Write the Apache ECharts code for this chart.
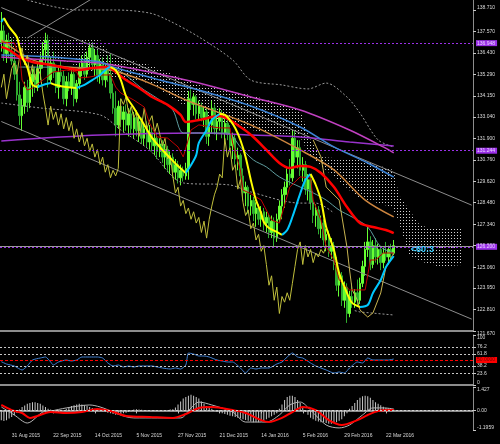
<!DOCTYPE html>
<html><head><meta charset="utf-8">
<script src="https://cdn.jsdelivr.net/npm/echarts@6/dist/echarts.min.js"></script>
<style>html,body{margin:0;padding:0;background:#000}#c{width:500px;height:444px}</style>
</head><body><div id="c"></div><script>
// ---------- data ----------
const SLOTS = 182; // bars + 26 forward slots for the cloud + right margin
const dateIdx = [4,20,36,52,68,84,100,116,132,148];
const dateLabels = ['31 Aug 2015','22 Sep 2015','14 Oct 2015','5 Nov 2015','27 Nov 2015','21 Dec 2015','14 Jan 2016','5 Feb 2016','29 Feb 2016','22 Mar 2016'];
const priceTicks = [138.71,137.57,136.43,135.29,134.15,133.04,131.90,130.76,129.62,128.48,127.34,126.20,125.06,123.95,122.81,121.67];
const rsiTicks = [0,23.6,38.2,61.8,76.2,100];
const macdTicks = [-1.1959,0,1.427];

const opens = [137.0,137.6,136.4,137.1,136.5,136.0,135.3,134.2,133.1,133.6,
134.6,133.8,134.9,135.3,134.6,135.6,136.1,136.6,137.1,135.0,
135.9,135.4,134.6,135.4,135.2,134.0,134.9,134.6,135.3,134.0,
134.8,135.6,135.9,135.3,136.2,136.7,135.8,136.3,135.2,135.8,
135.0,135.6,135.3,134.3,133.5,132.6,133.6,132.9,133.3,132.6,
133.2,132.4,133.0,132.3,132.8,131.9,132.4,131.7,132.2,131.5,
131.9,131.2,131.6,130.9,131.3,130.5,130.9,130.1,130.5,129.8,
130.2,129.9,130.3,134.0,133.7,134.1,133.2,133.6,133.0,133.3,
132.0,132.6,133.5,132.4,132.8,133.1,132.2,132.7,132.1,131.5,
131.9,130.8,131.0,129.9,129.0,129.3,128.3,128.6,127.9,128.2,
127.6,128.0,127.4,127.7,126.9,127.5,126.6,127.6,128.3,128.9,
129.3,130.0,129.8,131.9,130.9,131.4,130.2,130.5,129.2,129.7,
128.5,127.8,128.1,127.1,127.4,126.5,126.8,125.9,126.2,125.2,
124.1,124.6,123.3,124.0,122.6,123.5,123.2,123.7,123.3,124.2,
125.1,126.0,126.4,125.2,126.2,125.6,126.0,125.3,125.8,125.6,
126.0,125.8];
const highs = [138.6,137.9,137.4,137.5,137.2,136.6,135.8,134.9,134.0,134.9,
135.0,135.2,135.6,135.7,135.9,136.4,137.0,137.5,137.4,136.2,
136.5,135.8,135.7,136.0,135.5,135.2,135.4,135.6,135.6,135.0,
135.9,136.3,136.4,136.5,137.0,137.0,136.6,136.6,136.1,136.2,
135.9,136.3,136.4,134.8,134.4,133.9,134.0,133.6,133.7,133.5,
133.5,133.3,133.4,133.1,133.0,132.7,132.8,132.6,132.5,132.3,
132.2,131.9,131.8,131.6,131.5,131.2,131.1,130.8,130.7,130.5,
130.4,130.6,134.4,134.5,134.3,134.2,133.9,133.8,133.6,133.5,
133.0,133.9,133.7,133.1,133.5,133.4,133.0,133.0,132.6,132.2,
132.1,131.4,131.1,130.3,129.6,129.4,128.9,128.8,128.5,128.4,
128.3,128.2,128.0,127.9,127.8,127.7,127.9,128.6,129.2,129.6,
130.3,130.8,132.3,132.3,131.8,131.8,130.9,130.7,130.0,129.9,
129.1,128.4,128.3,127.8,127.6,127.1,127.0,126.6,126.4,125.6,
124.9,124.8,124.3,124.2,123.8,124.2,123.9,124.4,124.5,125.4,
126.4,127.2,126.7,126.5,126.6,126.3,126.2,126.1,126.4,126.2,
126.3,126.5];
const lows = [136.5,136.0,135.9,136.2,135.8,135.0,133.9,132.6,132.3,133.2,
133.3,133.5,134.1,134.3,134.4,135.0,135.6,135.9,134.6,134.8,
135.1,134.3,134.0,134.9,133.7,133.6,134.4,134.2,133.6,133.8,
134.5,135.2,135.0,135.1,135.6,135.5,135.2,134.9,134.8,134.7,
134.6,134.9,134.0,133.2,132.0,132.4,132.5,132.2,132.3,132.0,
132.1,131.9,132.0,131.7,131.6,131.5,131.4,131.3,131.2,131.0,
130.8,130.9,130.6,130.3,130.1,130.0,129.8,129.7,129.5,129.4,
129.6,129.7,129.7,133.4,133.1,132.9,132.9,132.8,132.5,131.6,
131.5,132.2,132.1,131.8,132.3,131.9,131.7,131.8,131.2,130.8,
130.5,130.2,129.6,128.6,128.3,127.9,127.8,127.5,127.2,127.3,
127.2,127.0,126.9,126.6,126.6,126.1,126.4,127.4,127.6,128.2,
128.9,129.4,129.6,130.6,130.3,129.9,129.6,128.9,128.6,128.1,
127.4,127.2,126.8,126.6,126.2,125.9,125.6,125.5,124.9,123.8,
123.5,123.0,122.9,122.1,122.4,122.9,122.9,123.0,123.1,124.0,
124.6,125.6,124.9,125.0,125.3,125.2,124.9,125.0,125.4,125.2,
125.5,125.7];
const closes = [137.6,136.4,137.1,136.5,136.0,135.3,134.2,133.1,133.6,134.6,
133.8,134.9,135.3,134.6,135.6,136.1,136.6,137.1,135.0,135.9,
135.4,134.6,135.4,135.2,134.0,134.9,134.6,135.3,134.0,134.8,
135.6,135.9,135.3,136.2,136.7,135.8,136.3,135.2,135.8,135.0,
135.6,135.3,134.3,133.5,132.6,133.6,132.9,133.3,132.6,133.2,
132.4,133.0,132.3,132.8,131.9,132.4,131.7,132.2,131.5,131.9,
131.2,131.6,130.9,131.3,130.5,130.9,130.1,130.5,129.8,130.2,
129.9,130.3,134.0,133.7,134.1,133.2,133.6,133.0,133.3,132.0,
132.6,133.5,132.4,132.8,133.1,132.2,132.7,132.1,131.5,131.9,
130.8,131.0,129.9,129.0,129.3,128.3,128.6,127.9,128.2,127.6,
128.0,127.4,127.7,126.9,127.5,126.6,127.6,128.3,128.9,129.3,
130.0,129.8,131.9,130.9,131.4,130.2,130.5,129.2,129.7,128.5,
127.8,128.1,127.1,127.4,126.5,126.8,125.9,126.2,125.2,124.1,
124.6,123.3,124.0,122.6,123.5,123.2,123.7,123.3,124.2,125.1,
126.0,126.4,125.2,126.2,125.6,126.0,125.3,125.8,125.6,126.0,
125.8,126.2];

// fast colour MA (cyan rising / yellow falling), [barIndex, price]
const hmaLine = [[0,138.07],[1,138.28],[3,137.81],[6,137.28],[7,136.75],[8,136.21],[10,135.68],[11,135.15],[12,134.73],[14,134.62],[16,134.73],[19,134.83],[21,134.73],[25,134.62],[29,134.57],[32,134.73],[35,134.99],[38,135.26],[41,135.63],[42,135.68],[44,135.52],[46,134.99],[48,134.14],[51,133.51],[55,132.61],[58,131.92],[62,131.28],[65,130.85],[68,130.43],[71,130.06],[73,130.48],[75,131.01],[76,131.65],[79,132.34],[81,132.87],[84,133.19],[86,133.14],[88,132.87],[90,132.45],[92,131.81],[94,130.91],[96,129.69],[98,128.62],[100,127.93],[101,127.46],[103,127.14],[106,126.93],[108,126.77],[110,127.03],[112,127.72],[115,128.96],[117,129.69],[119,130.00],[121,129.42],[123,128.62],[125,127.19],[128,125.97],[130,124.75],[133,123.69],[135,123.16],[138,122.94],[141,123.05],[143,123.69],[146,124.38],[148,125.06],[151,125.65]];
const redMA = [[0,136.75],[3,136.59],[7,136.21],[12,135.95],[19,135.79],[25,135.63],[30,135.52],[35,135.63],[41,135.68],[44,135.42],[48,134.99],[53,134.57],[58,134.09],[64,133.67],[69,133.14],[71,132.76],[76,132.87],[84,133.08],[92,132.50],[97,131.97],[102,131.28],[107,130.59],[111,130.32],[115,130.43],[119,130.38],[123,130.06],[128,129.31],[133,128.25],[138,127.40],[143,127.19],[148,127.03],[151,126.87]];
const blueMA = [[0,136.32],[19,136.21],[38,135.95],[43,135.68],[61,134.99],[76,134.46],[96,133.61],[115,132.50],[128,131.44],[141,130.59],[151,129.84]];
const magentaMA = [[0,136.21],[12,136.11],[25,136.00],[38,135.90],[43,135.79],[57,135.42],[76,134.83],[96,134.09],[115,133.40],[134,132.34],[147,131.44],[151,131.12]];
const purpleMA = [[0,131.76],[38,132.07],[76,132.18],[96,132.07],[115,131.97],[134,131.70],[151,131.49]];
const orangeMA = [[0,137.12],[12,136.06],[25,135.68],[42,135.52],[57,134.83],[71,133.93],[96,132.61],[115,131.28],[128,130.22],[140,128.62],[151,127.73]];
const tealMA = [[7,135.68],[42,135.63],[55,134.46],[61,133.93],[66,133.40],[70,132.18],[76,132.18],[87,132.18],[92,131.44],[97,130.75],[102,130.38],[107,129.85],[115,129.31],[120,129.00],[125,128.62],[130,128.09],[135,127.72],[141,127.19],[146,126.13],[151,125.81]];
const tenkan = [[0,137.01],[5,136.96],[6,136.59],[7,136.43],[8,134.99],[10,134.46],[12,134.57],[16,134.99],[20,135.42],[25,135.52],[29,135.42],[30,135.10],[34,135.15],[38,135.26],[42,135.26],[44,134.62],[46,134.30],[51,133.93],[55,133.56],[57,132.71],[60,131.97],[64,131.91],[68,131.44],[70,130.91],[73,132.34],[76,132.61],[84,132.45],[88,132.45],[89,131.65],[92,130.22],[93,129.15],[96,128.96],[100,128.62],[104,127.56],[107,127.40],[111,129.31],[115,129.85],[119,129.79],[120,128.62],[123,127.56],[125,126.13],[128,125.44],[130,124.38],[134,123.85],[140,123.85],[142,125.44],[144,125.44],[147,125.81],[151,125.81]];
const khakiLine = [[120,131.81],[123,130.91],[125,129.31],[130,128.62],[133,126.13],[134,124.91],[135,123.85],[137,123.32],[138,122.79],[141,122.41],[143,122.63],[146,123.69],[148,125.07],[151,125.81]];
const upperBand = [[10,139.24],[29,138.71],[44,138.71],[57,138.55],[64,138.18],[76,137.28],[89,136.06],[96,134.99],[108,134.73],[118,134.52],[125,134.83],[133,134.09],[138,133.24],[145,131.81],[151,131.44]];
const lowerBand = [[0,133.77],[15,133.51],[38,133.14],[46,132.34],[57,131.28],[70,129.53],[88,129.42],[96,129.05],[115,128.46],[121,128.46],[128,127.93]];
const lowerBand2 = [[136,122.75],[138,122.68],[151,122.52]];
const cloudTop = [[3,137.28],[23,137.22],[38,137.12],[42,136.32],[57,135.79],[76,134.73],[96,134.20],[115,133.40],[119,131.81],[123,130.91],[138,130.75],[151,130.22],[153,128.89],[161,127.30],[165,127.14],[177,127.14]];
const cloudBottom = [[3,136.69],[23,136.06],[38,135.26],[57,134.83],[76,133.14],[96,132.34],[115,131.97],[119,130.91],[137,128.78],[150,128.25],[152,127.83],[157,125.71],[162,125.33],[169,125.07],[177,125.17]];
const channelUpper = [[0,138.84],[181,128.35]];
const channelLower = [[0,132.79],[181,122.30]];
const fanLine = [[10,137.22],[36,139.40]];
const levelPrices = [136.948,131.244,126.14];
const levelLabels = ['136.948','131.244','126.200'];
const bidPrice = 126.18;

const rsi = [[0,46.6],[2,42],[5,38],[8,30],[10,38],[12,50],[15,54],[17,56],[19,46],[20,40],[22,46],[25,50],[27,48],[29,50],[31,56],[34,56],[37,56],[39,54],[41,44],[43,38],[45,40],[47,36],[49,38],[51,36],[53,38],[55,38],[58,38],[60,36],[62,34],[65,32],[67,34],[69,32],[71,40],[72,64],[74,62],[76,58],[78,58],[80,56],[83,50],[85,48],[87,46],[89,46],[92,34],[94,24],[96,34],[98,32],[100,34],[103,34],[106,42],[108,46],[110,56],[112,64],[114,56],[116,54],[119,44],[121,38],[123,34],[125,30],[128,24],[130,26],[132,24],[134,34],[137,46],[139,44],[141,54],[143,50],[145,50],[147,50],[149,50],[151,52]];
const macdHist = [-0.6,-0.65,-0.6,-0.5,-0.4,-0.3,-0.15,0.05,
0.2,0.3,0.4,0.45,0.5,
0.5,0.45,0.4,0.3,0.2,
0.1,0.05,-0.08,-0.12,-0.1,-0.05,0.0,
0.1,0.18,0.27,0.32,0.36,0.4,0.36,0.32,0.27,
0.2,0.14,0.1,0.05,0.0,-0.05,-0.1,
-0.14,-0.18,-0.22,-0.27,-0.27,-0.22,-0.18,-0.14,-0.1,-0.05,
0.05,0.07,0.05,0.04,0.03,0.02,0.0,-0.02,-0.04,-0.03,-0.02,0.0,0.02,0.03,0.05,0.07,
0.18,0.36,0.54,0.72,0.81,0.9,0.95,0.9,0.81,0.72,
0.54,0.4,0.27,0.18,0.1,0.0,-0.1,-0.14,-0.18,
-0.22,-0.27,-0.32,-0.36,-0.4,-0.45,-0.5,-0.54,-0.58,
-0.63,-0.68,-0.72,-0.72,-0.72,-0.68,-0.63,-0.54,-0.45,-0.36,-0.27,-0.18,
0.1,0.36,0.63,0.81,0.9,0.9,0.81,0.63,0.45,
0.18,-0.1,-0.27,-0.45,-0.54,-0.63,-0.68,-0.72,-0.72,
-0.77,-0.81,-0.81,-0.77,-0.72,-0.63,-0.54,-0.36,-0.18,
0.1,0.27,0.45,0.63,0.77,0.86,0.9,0.86,0.77,0.63,
0.5,0.4,0.32,0.22,0.16,0.11,0.07,0.05];
const macdSignal = [[0,0.33],[4,0.02],[8,-0.16],[11,-0.46],[19,-0.10],[25,-0.16],[31,-0.10],[37,0.09],[42,-0.04],[48,-0.34],[57,-0.40],[66,-0.46],[71,-0.22],[76,0.15],[81,0.21],[89,0.02],[94,-0.16],[100,-0.59],[103,-0.71],[108,-0.46],[112,-0.10],[116,0.21],[121,0.02],[126,-0.59],[131,-0.89],[137,-0.59],[141,-0.28],[145,-0.04],[150,0.02],[151,0.02]];
const macdMain = [[0,0.21],[5,-0.28],[10,-0.77],[16,-0.10],[19,-0.04],[25,0.15],[34,0.33],[38,0.21],[51,-0.46],[69,-0.46],[73,0.15],[76,0.51],[81,0.33],[89,-0.10],[94,-0.71],[102,-0.71],[107,-0.28],[111,0.33],[115,0.51],[119,0.02],[125,-0.89],[130,-1.07],[134,-0.89],[139,-0.28],[143,0.15],[147,0.15],[151,0.09]];

// ---------- chart ----------
const FONT = 'Liberation Sans';
const cats = []; for (let i = 0; i < SLOTS; i++) cats.push(String(i));
const labelOf = {}; dateIdx.forEach((d, k) => labelOf[d] = dateLabels[k]);
const isDate = (i) => labelOf[i] !== undefined;

const ohlc = opens.map((o, i) => [o, closes[i], lows[i], highs[i]]);
const chikou = closes.slice(26).map((c, k) => [k, c]);

// split the fast MA into rising (cyan) and falling (yellow) runs
const hmaRuns = [];
for (let k = 0; k < hmaLine.length - 1; k++) {
  const col = hmaLine[k + 1][1] > hmaLine[k][1] ? '#00c8ff' : '#ffff00';
  const last = hmaRuns[hmaRuns.length - 1];
  if (last && last.color === col) last.pts.push(hmaLine[k + 1]);
  else hmaRuns.push({ color: col, pts: [hmaLine[k], hmaLine[k + 1]] });
}

const pc = document.createElement('canvas'); pc.width = 3; pc.height = 3;
const g = pc.getContext('2d'); g.fillStyle = '#d2d2d2'; g.fillRect(1, 1, 1, 1);

const grids = [
  { left: 0, right: 27, top: 0, height: 331 },
  { left: 0, right: 27, top: 335, height: 50 },
  { left: 0, right: 27, top: 387, height: 43 }
];
const mkX = (gi, show) => ({
  type: 'category', gridIndex: gi, data: cats, boundaryGap: true,
  axisLine: { show: true, lineStyle: { color: '#8c8c8c', width: 2 } },
  axisTick: { show: show, interval: (i) => isDate(i), alignWithLabel: true, length: 3, lineStyle: { color: '#c0c0c0' } },
  axisLabel: { show: show, interval: (i) => isDate(i), formatter: (v, i) => labelOf[i] || '', align: 'left', fontSize: 5, color: '#d8d8d8', margin: 3, fontFamily: FONT },
  splitLine: { show: false }
});
const mkY = (gi, min, max, ticks, fmt) => ({
  type: 'value', gridIndex: gi, position: 'right', min: min, max: max,
  splitLine: { show: false },
  axisLine: { show: true, lineStyle: { color: '#8c8c8c' } },
  axisTick: { show: true, length: 3, customValues: ticks, lineStyle: { color: '#c8c8c8' } },
  axisLabel: { customValues: ticks, formatter: fmt, fontSize: 5, color: '#dcdcdc', margin: 4, fontFamily: FONT,
    verticalAlignMinLabel: 'bottom', verticalAlignMaxLabel: 'top' }
});
const L = (data, color, width, extra) => Object.assign({
  type: 'line', xAxisIndex: 0, yAxisIndex: 0, data: data, symbol: 'none', smooth: 0.3,
  lineStyle: { color: color, width: width }, silent: true, z: 3
}, extra || {});
const purpleLbl = (t) => ({ show: true, position: 'end', distance: 3, formatter: t, backgroundColor: '#9a30e8', color: '#ecd8ff', fontSize: 5, fontFamily: FONT, padding: [1, 2, 0, 1] });

const series = [
  { type: 'custom', xAxisIndex: 0, yAxisIndex: 0, silent: true, z: 1, data: [[cloudTop[0][0], cloudTop[0][1]]],
    renderItem: (params, api) => {
      const pts = cloudTop.map(p => api.coord(p)).concat(cloudBottom.slice().reverse().map(p => api.coord(p)));
      return { type: 'polygon', shape: { points: pts }, style: { fill: { image: pc, repeat: 'repeat' }, stroke: null } };
    } },
  { type: 'candlestick', xAxisIndex: 0, yAxisIndex: 0, data: ohlc, barWidth: 2, silent: true, z: 2,
    itemStyle: { color: '#66ff33', color0: '#2fae2f', borderColor: '#66ff33', borderColor0: '#2fae2f', borderWidth: 1 },
    markLine: { silent: true, symbol: ['none', 'none'], animation: false,
      data: levelPrices.map((p, k) => ({ yAxis: p, lineStyle: { color: '#9a30e8', type: [2, 2], width: 1 }, label: purpleLbl(levelLabels[k]) }))
        .concat([{ yAxis: bidPrice, lineStyle: { color: '#9a9a9a', type: 'solid', width: 1 }, label: { show: false } }]) },
    markPoint: { silent: true, animation: false, data: [{ coord: [162, 125.97], symbol: 'circle', symbolSize: 0,
      label: { show: true, position: 'inside', formatter: '<60:3', color: '#33ccff', fontSize: 9, fontWeight: 'bold', fontFamily: FONT } }] } },
  L(channelUpper, '#8c8c8c', 1, { smooth: false }),
  L(channelLower, '#8c8c8c', 1, { smooth: false }),
  L(fanLine, '#8c8c8c', 1, { smooth: false }),
  L(upperBand, '#9a9a9a', 1, { lineStyle: { color: '#9a9a9a', width: 1, type: [2, 2] } }),
  L(lowerBand, '#9a9a9a', 1, { lineStyle: { color: '#9a9a9a', width: 1, type: [2, 2] } }),
  L(lowerBand2, '#9a9a9a', 1, { smooth: false, lineStyle: { color: '#9a9a9a', width: 1, type: [2, 2] } }),
  L(purpleMA, '#9932cc', 1.5),
  L(tealMA, '#5f9ea0', 1),
  L(orangeMA, '#cd853f', 1.5),
  L(magentaMA, '#c040c0', 1.5),
  L(blueMA, '#3d84d6', 1.5),
  L(chikou, '#c0bf3c', 1, { smooth: false }),
  L(khakiLine, '#c8b450', 1, { smooth: false }),
  L(tenkan, '#c00000', 1, { smooth: false }),
  L(redMA, '#ff0000', 2.5)
].concat(hmaRuns.map(r => L(r.pts, r.color, 2, { z: 5 }))).concat([
  { type: 'line', xAxisIndex: 1, yAxisIndex: 1, data: rsi, symbol: 'none', smooth: 0.2, silent: true,
    lineStyle: { color: '#3f7fd0', width: 1 },
    markLine: { silent: true, symbol: ['none', 'none'], animation: false,
      data: [76.2, 61.8, 38.2, 23.6].map(v => ({ yAxis: v, lineStyle: { color: '#c8c8c8', type: [2, 2], width: 1 }, label: { show: false } }))
        .concat([{ yAxis: 50, lineStyle: { color: '#ff0000', type: [3, 2], width: 1 },
          label: { show: true, position: 'end', distance: 3, formatter: '50.0000', backgroundColor: '#ff0000', color: '#700000', fontSize: 5, fontFamily: FONT, padding: [1, 2, 0, 1] } }]) } },
  { type: 'bar', xAxisIndex: 2, yAxisIndex: 2, data: macdHist, barWidth: 1, silent: true, itemStyle: { color: '#c8c8c8' },
    markLine: { silent: true, symbol: ['none', 'none'], animation: false,
      data: [{ yAxis: 0, lineStyle: { color: '#d0d0d0', type: [2, 2], width: 1 }, label: { show: false } }] } },
  { type: 'line', xAxisIndex: 2, yAxisIndex: 2, data: macdMain, symbol: 'none', smooth: 0.3, silent: true, lineStyle: { color: '#b4b4b4', width: 1 } },
  { type: 'line', xAxisIndex: 2, yAxisIndex: 2, data: macdSignal, symbol: 'none', smooth: 0.3, silent: true, lineStyle: { color: '#ff0000', width: 2 } }
]);

const chart = echarts.init(document.getElementById('c'), null, { renderer: 'canvas' });
chart.setOption({
  backgroundColor: '#000000',
  animation: false,
  textStyle: { fontFamily: FONT },
  grid: grids,
  xAxis: [mkX(0, false), mkX(1, false), mkX(2, true)],
  yAxis: [
    mkY(0, 121.67, 139.24, priceTicks, v => v.toFixed(3)),
    mkY(1, 0, 100, rsiTicks, v => String(v)),
    mkY(2, -1.1959, 1.427, macdTicks, v => (v === 0 ? '0.00' : String(v)))
  ],
  series: series
});
</script></body></html>
